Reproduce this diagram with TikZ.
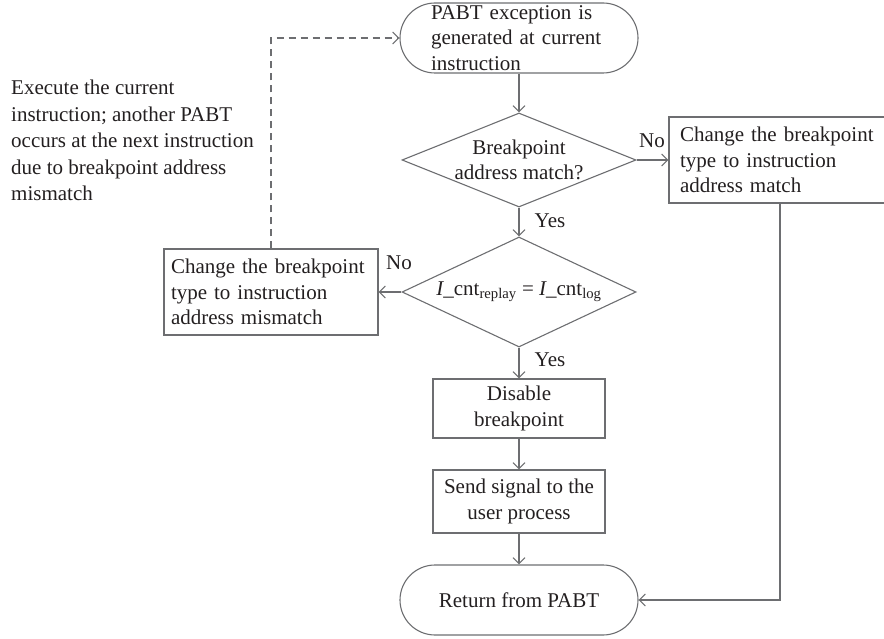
\documentclass[tikz,border=0pt]{standalone}
\usepackage{fontspec}
\setmainfont{Liberation Serif}
\usetikzlibrary{shapes.geometric,arrows.meta}
\definecolor{linegray}{HTML}{6D6E71}
\definecolor{inkgray}{HTML}{231F20}

\begin{document}
\begin{tikzpicture}[x=1pt,y=-1pt,>={Straight Barb[length=6pt,width=12pt]},
  font=\fontsize{21}{25.5}\selectfont, text=inkgray]
 \tikzstyle{line} = [draw=linegray,line width=1.1pt]
 \tikzstyle{terminal} = [line,rectangle,rounded corners=35pt,minimum width=238pt,minimum height=70pt,inner sep=0pt]
 \tikzstyle{decision} = [line,diamond,minimum width=234pt,inner sep=0pt]
 \tikzstyle{process} = [line,rectangle,inner sep=0pt,align=center]
 \tikzstyle{branch} = [inner sep=0pt]

 \useasboundingbox (0,0) rectangle (884,639);

% Terminals
 \node[terminal,text width=176pt,align=left] (start) at (519,38) {PABT exception is\\generated at current\\instruction};
 \node[terminal] (ret) at (519,600) {Return from PABT};

% Decisions (text is set on top, so the diamond keeps its size)
 \node[decision,minimum height=94pt] (match) at (519,160) {};
 \node[branch,align=center] (matchtxt) at (match) {Breakpoint\\address match?};
 \node[decision,minimum height=110pt] (cnt) at (519,292) {};
 \node[branch] (cnttxt) at (cnt) {{\itshape I}\_cnt\textsubscript{replay} = {\itshape I}\_cnt\textsubscript{log}};

% Processes
 \node[process,minimum width=222pt,minimum height=86pt,text width=200pt,align=left] (setmatch) at (780,160) {Change the breakpoint\\type to instruction\\address match};
 \node[process,minimum width=214pt,minimum height=86pt,text width=200pt,align=left] (setmis) at (271,292) {Change the breakpoint\\type to instruction\\address mismatch};
 \node[process,minimum width=172pt,minimum height=59pt] (disable) at (519,408.5) {Disable\\breakpoint};
 \node[process,minimum width=172pt,minimum height=63pt] (signal) at (519,501.5) {Send signal to the\\user process};

% Note
 \node[branch,anchor=north west,align=left,font=\fontsize{21}{26.5}\selectfont] (note) at (11,80) {Execute the current\\instruction; another PABT\\occurs at the next instruction\\due to breakpoint address\\mismatch};

% Connectors
 \draw[line,->] (start) -- (match);
 \draw[line,->] (match.east) -- (setmatch.west);
 \draw[line,->] (match.south) -- (cnt.north);
 \draw[line,->] (cnt.west) -- (setmis.east);
 \draw[line,->] (cnt.south) -- (disable.north);
 \draw[line,->] (disable) -- (signal);
 \draw[line,->] (signal) -- (ret);
 \draw[line,->] (setmatch.south) |- (ret.east);
 \draw[line,dash pattern=on 7pt off 5pt,->] (setmis.north) |- (start.west);

% Branch labels
 \node[branch] (no1) at (652,141) {No};
 \node[branch] (yes1) at (550,221) {Yes};
 \node[branch] (no2) at (399,263) {No};
 \node[branch] (yes2) at (550,360) {Yes};

\end{tikzpicture}
\end{document}
